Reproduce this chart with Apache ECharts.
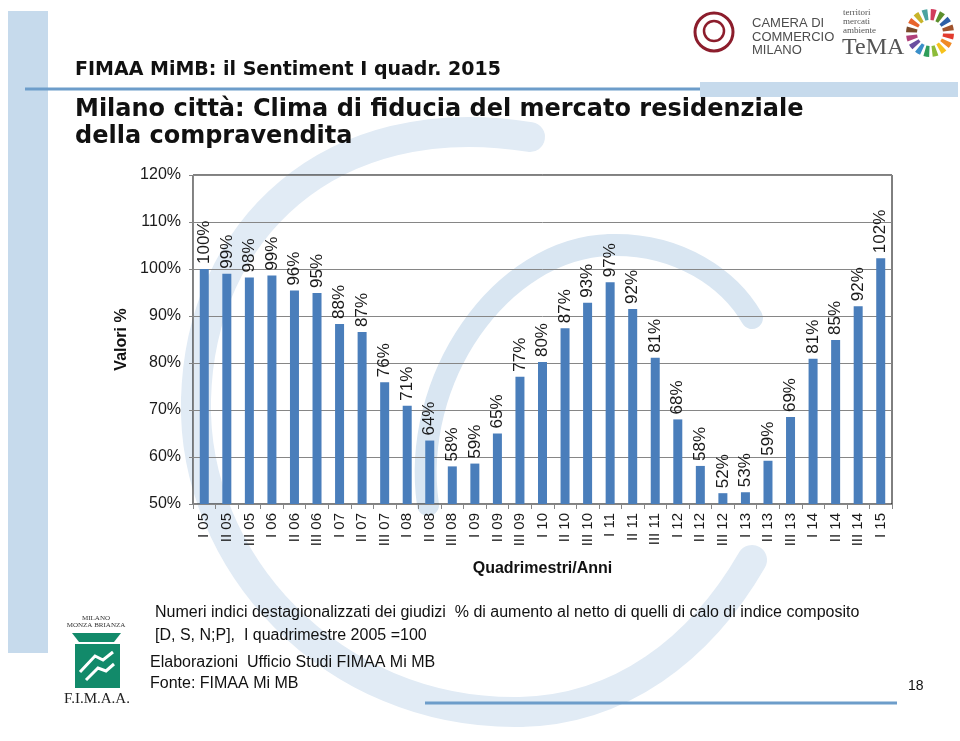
<!DOCTYPE html>
<html><head><meta charset="utf-8">
<script src="https://cdn.jsdelivr.net/npm/echarts@6/dist/echarts.min.js"></script>
<style>html,body{margin:0;padding:0;background:#fff}#c{width:960px;height:741px}</style>
</head><body><div id="c"></div>
<script>
// ---- data ----
const categories = ['I 05','II 05','III 05','I 06','II 06','III 06','I 07','II 07','III 07','I 08','II 08','III 08','I 09','II 09','III 09','I 10','II 10','III 10','I 11','II 11','III 11','I 12','II 12','III 12','I 13','II 13','III 13','I 14','II 14','III 14','I 15'];
const values = [100.0,99.0,98.2,98.6,95.4,94.9,88.3,86.6,75.9,70.9,63.5,58.0,58.6,65.0,77.1,80.2,87.4,92.8,97.2,91.5,81.1,68.0,58.1,52.3,52.5,59.2,68.5,80.9,84.9,92.1,102.3];
const labelValues = [100,99,98,99,96,95,88,87,76,71,64,58,59,65,77,80,87,93,97,92,81,68,58,52,53,59,69,81,85,92,102];
const yTicks = {min: 50, max: 120, interval: 10};

const chart = echarts.init(document.getElementById('c'), null, {renderer: 'canvas'});
const FONT = 'Liberation Sans, Arial, sans-serif';
const SERIF = 'Liberation Serif, Times New Roman, serif';
const BG_BLUE = '#c6daec';
const LINE_BLUE = '#6d9dca';
const WM = '#e1ebf5';

const ringColors = ['#e23b2e','#f08a24','#f6c21c','#8dbb3a','#2f9e5a','#3a8fc9','#6a4fa0','#b0407a','#7a4a2a','#e8632b','#c8b42a','#4aa3a0','#d13c5c','#5d8f2e','#2c5fa8','#a0522d'];
const ring = ringColors.map((c, i) => ({
  type: 'sector', z: 5,
  shape: {cx: 930, cy: 33, r0: 13, r: 24, startAngle: (i * 22.5 + 2) * Math.PI / 180, endAngle: (i * 22.5 + 16) * Math.PI / 180},
  style: {fill: c}
}));

function curve(p, w, col) {
  return {type: 'bezierCurve', z: -15,
    shape: {x1: p[0], y1: p[1], cpx1: p[2], cpy1: p[3], cpx2: p[4], cpy2: p[5], x2: p[6], y2: p[7]},
    style: {fill: 'none', stroke: col, lineWidth: w, lineCap: 'round'}};
}

const graphics = [
  // left band
  {type: 'rect', z: -20, shape: {x: 8, y: 11, width: 40, height: 642}, style: {fill: BG_BLUE}},
  // watermark swooshes
  curve([530,137, 330,105, 200,230, 196,400], 30, WM),
  curve([196,400, 192,560, 330,715, 520,712], 30, WM),
  curve([520,712, 620,710, 700,650, 752,560], 30, WM),
  curve([428,505, 410,380, 500,248, 610,245], 22, '#d9e6f2'),
  curve([610,245, 680,243, 730,280, 752,318], 22, '#d9e6f2'),
  // header lines
  {type: 'line', z: 1, shape: {x1: 25, y1: 89, x2: 700, y2: 89}, style: {stroke: LINE_BLUE, lineWidth: 3}},
  {type: 'rect', z: 1, shape: {x: 700, y: 82, width: 258, height: 15}, style: {fill: BG_BLUE}},
  {type: 'line', z: 1, shape: {x1: 425, y1: 703, x2: 897, y2: 703}, style: {stroke: LINE_BLUE, lineWidth: 3}},
  // titles
  {type: 'text', z: 5, x: 75, y: 70, style: {text: 'FIMAA MiMB: il Sentiment I quadr. 2015', font: 'bold 19px "DejaVu Sans"', fill: '#111', textVerticalAlign: 'middle'}},
  {type: 'text', z: 5, x: 75, y: 110, style: {text: 'Milano città: Clima di fiducia del mercato residenziale', font: 'bold 24px "DejaVu Sans"', fill: '#111', textVerticalAlign: 'middle'}},
  {type: 'text', z: 5, x: 75, y: 137, style: {text: 'della compravendita', font: 'bold 24px "DejaVu Sans"', fill: '#111', textVerticalAlign: 'middle'}},
  // footnotes
  {type: 'text', z: 5, x: 155, y: 613, style: {text: 'Numeri indici destagionalizzati dei giudizi  % di aumento al netto di quelli di calo di indice composito', font: '16px ' + FONT, fill: '#111', textVerticalAlign: 'middle'}},
  {type: 'text', z: 5, x: 155, y: 636, style: {text: '[D, S, N;P],  I quadrimestre 2005 =100', font: '16px ' + FONT, fill: '#111', textVerticalAlign: 'middle'}},
  {type: 'text', z: 5, x: 150, y: 663, style: {text: 'Elaborazioni  Ufficio Studi FIMAA Mi MB', font: '16px ' + FONT, fill: '#111', textVerticalAlign: 'middle'}},
  {type: 'text', z: 5, x: 150, y: 684, style: {text: 'Fonte: FIMAA Mi MB', font: '16px ' + FONT, fill: '#111', textVerticalAlign: 'middle'}},
  {type: 'text', z: 5, x: 908, y: 686, style: {text: '18', font: '14px ' + FONT, fill: '#111', textVerticalAlign: 'middle'}},
  // Camera di Commercio logo
  {type: 'circle', z: 5, shape: {cx: 714, cy: 32, r: 19}, style: {fill: 'none', stroke: '#8c1d2c', lineWidth: 3}},
  {type: 'circle', z: 5, shape: {cx: 714, cy: 31, r: 10}, style: {fill: 'none', stroke: '#8c1d2c', lineWidth: 2.5}},
  {type: 'text', z: 5, x: 752, y: 23, style: {text: 'CAMERA DI', font: '13px ' + FONT, fill: '#4d4d4d', textVerticalAlign: 'middle'}},
  {type: 'text', z: 5, x: 752, y: 37, style: {text: 'COMMERCIO', font: '13px ' + FONT, fill: '#4d4d4d', textVerticalAlign: 'middle'}},
  {type: 'text', z: 5, x: 752, y: 50, style: {text: 'MILANO', font: '13px ' + FONT, fill: '#4d4d4d', textVerticalAlign: 'middle'}},
  // TeMA logo
  {type: 'text', z: 5, x: 843, y: 13, style: {text: 'territori', font: '9px ' + SERIF, fill: '#555', textVerticalAlign: 'middle'}},
  {type: 'text', z: 5, x: 843, y: 22, style: {text: 'mercati', font: '9px ' + SERIF, fill: '#555', textVerticalAlign: 'middle'}},
  {type: 'text', z: 5, x: 843, y: 31, style: {text: 'ambiente', font: '9px ' + SERIF, fill: '#555', textVerticalAlign: 'middle'}},
  {type: 'text', z: 5, x: 842, y: 48, style: {text: 'TeMA', font: '24px ' + SERIF, fill: '#555', textVerticalAlign: 'middle'}},
  ...ring,
  // FIMAA logo
  {type: 'text', z: 5, x: 96, y: 618, style: {text: 'MILANO', font: '7px ' + SERIF, fill: '#333', textAlign: 'center', textVerticalAlign: 'middle'}},
  {type: 'text', z: 5, x: 96, y: 625, style: {text: 'MONZA BRIANZA', font: '7px ' + SERIF, fill: '#333', textAlign: 'center', textVerticalAlign: 'middle'}},
  {type: 'polygon', z: 5, shape: {points: [[72, 633], [121, 633], [114, 642], [79, 642]]}, style: {fill: '#128a6a'}},
  {type: 'rect', z: 5, shape: {x: 75, y: 644, width: 45, height: 44}, style: {fill: '#128a6a'}},
  {type: 'polyline', z: 6, shape: {points: [[80, 672], [95, 656], [103, 660], [113, 652]]}, style: {stroke: '#fff', lineWidth: 3, fill: 'none'}},
  {type: 'polyline', z: 6, shape: {points: [[86, 680], [98, 668], [106, 671], [114, 664]]}, style: {stroke: '#fff', lineWidth: 3, fill: 'none'}},
  {type: 'text', z: 5, x: 97, y: 699, style: {text: 'F.I.M.A.A.', font: '15px ' + SERIF, fill: '#222', textAlign: 'center', textVerticalAlign: 'middle'}}
];

const option = {
  backgroundColor: '#fff',
  animation: false,
  textStyle: {fontFamily: FONT},
  graphic: {elements: graphics},
  grid: {left: 193, right: 68, top: 175, bottom: 237, show: true, borderColor: '#000', borderWidth: 1, backgroundColor: 'transparent'},
  xAxis: {
    type: 'category', data: categories, boundaryGap: true,
    axisLine: {lineStyle: {color: '#868686', width: 1}},
    axisTick: {show: true, length: 5, lineStyle: {color: '#868686'}},
    axisLabel: {rotate: 90, interval: 0, fontSize: 15, color: '#1a1a1a', margin: 9, fontFamily: FONT},
    name: 'Quadrimestri/Anni', nameLocation: 'middle', nameGap: 57,
    nameTextStyle: {fontSize: 16, fontWeight: 'bold', color: '#111', fontFamily: FONT}
  },
  yAxis: {
    type: 'value', min: yTicks.min, max: yTicks.max, interval: yTicks.interval,
    axisLine: {show: true, lineStyle: {color: '#868686'}},
    axisTick: {show: true, length: 4, lineStyle: {color: '#868686'}},
    splitLine: {show: true, lineStyle: {color: '#868686', width: 1}},
    axisLabel: {formatter: '{value}%', fontSize: 16, color: '#1a1a1a', margin: 12, fontFamily: FONT},
    name: 'Valori %', nameLocation: 'middle', nameGap: 59, nameRotate: 90,
    nameTextStyle: {fontSize: 16, fontWeight: 'bold', color: '#111', fontFamily: FONT}
  },
  series: [{
    type: 'bar', data: values, barWidth: 9,
    itemStyle: {color: '#4a7ebb'},
    label: {
      show: true, position: 'top', rotate: 90, align: 'left', verticalAlign: 'middle', distance: 5,
      fontSize: 17, color: '#1a1a1a', fontFamily: FONT,
      formatter: p => labelValues[p.dataIndex] + '%'
    }
  }]
};
chart.setOption(option);
</script>
</body></html>
